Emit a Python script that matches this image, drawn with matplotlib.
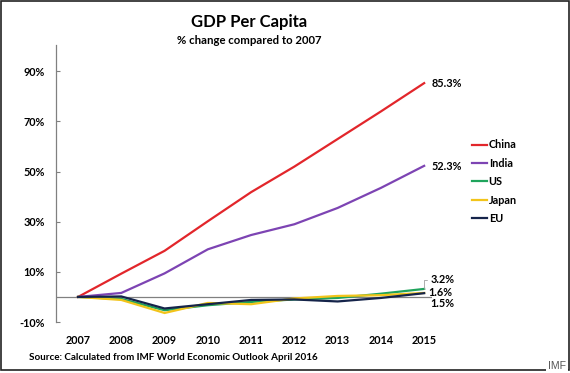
import matplotlib
matplotlib.use("Agg")
import matplotlib.pyplot as plt
from matplotlib.patches import Rectangle

plt.rcParams['font.family'] = ['Lato', 'DejaVu Sans']
plt.rcParams['font.weight'] = 'bold'

# data: % change in GDP per capita vs 2007
years = [2007, 2008, 2009, 2010, 2011, 2012, 2013, 2014, 2015]
china = [0, 9.3, 18.4, 30.2, 41.8, 52.0, 63.0, 74.0, 85.3]
india = [0, 1.6, 9.4, 19.0, 24.7, 29.0, 35.5, 43.5, 52.3]
us = [0, -0.8, -5.3, -3.3, -2.0, -1.0, -0.4, 1.3, 3.2]
japan = [0, -1.2, -6.4, -2.4, -2.9, -0.6, 0.4, 0.7, 1.6]
eu = [0, 0.2, -4.6, -2.9, -1.2, -1.0, -1.8, -0.4, 1.5]

series = [("China", china, "#e2262b"),
          ("India", india, "#7d44b3"),
          ("US", us, "#1fa45c"),
          ("Japan", japan, "#f2c41a"),
          ("EU", eu, "#15244a")]

yticks = [-10, 10, 30, 50, 70, 90]
end_labels = {"China": "85.3%", "India": "52.3%", "US": "3.2%", "Japan": "1.6%", "EU": "1.5%"}

fig = plt.figure(figsize=(5.70, 3.73), dpi=100)
ax = fig.add_axes([0.0982, 0.1367, 0.6596, 0.7426])

for name, vals, col in series:
    ax.plot(years, vals, color=col, lw=1.6, label=name, solid_joinstyle='miter')

ax.axhline(0, color="#808080", lw=0.9, zorder=0)
ax.set_xlim(2006.49, 2015.18)
ax.set_ylim(-10, 100.5)

for s in ["top", "right", "bottom"]:
    ax.spines[s].set_visible(False)
ax.spines["left"].set_color("#808080")
ax.spines["left"].set_linewidth(0.9)

ax.set_yticks(yticks)
ax.set_yticklabels([f"{t}%" for t in yticks])
ax.tick_params(axis="y", direction="in", length=3, color="#808080", pad=8, labelsize=7.8)
ax.set_xticks(years)
ax.set_xticklabels([str(y) for y in years])
ax.tick_params(axis="x", length=0, pad=9, labelsize=7.8)

# end-of-line value labels
ax.annotate(end_labels["China"], (2015, china[-1]), xytext=(7, 0), textcoords="offset pixels",
            va="center", fontsize=7.8)
ax.annotate(end_labels["India"], (2015, india[-1]), xytext=(7, -1), textcoords="offset pixels",
            va="center", fontsize=7.8)
ax.annotate(end_labels["US"], (2015, us[-1]), xytext=(6, 9), textcoords="offset pixels",
            va="center", fontsize=7.8,
            arrowprops=dict(arrowstyle="-", color="#a0a0a0", lw=0.6, shrinkA=0, shrinkB=0,
                            connectionstyle="angle,angleA=0,angleB=90,rad=0"))
ax.annotate(end_labels["Japan"], (2015, japan[-1]), xytext=(4, 0), textcoords="offset pixels",
            va="center", fontsize=7.8)
ax.annotate(end_labels["EU"], (2015, eu[-1]), xytext=(6, -10), textcoords="offset pixels",
            va="center", fontsize=7.8)

leg = ax.legend(loc="upper left", bbox_to_anchor=(467 / 570, 1 - 134 / 373),
                bbox_transform=fig.transFigure, frameon=False, fontsize=7.8,
                handlelength=1.35, handletextpad=0.15, labelspacing=0.68, borderpad=0)

fig.text(249 / 570, 1 - 22 / 373, "GDP Per Capita", ha="center", va="center", fontsize=12)
fig.text(249 / 570, 1 - 40 / 373, "% change compared to 2007", ha="center", va="center", fontsize=8.2)
fig.text(29 / 570, 1 - 357 / 373, "Source: Calculated from IMF World Economic Outlook April 2016",
         ha="left", va="center", fontsize=7.1)

# outer frame
fig.patches.append(Rectangle((1 / 570, 3 / 373), 568 / 570, 369 / 373, transform=fig.transFigure,
                             fill=False, edgecolor="#222222", lw=1.2))
fig.text(566 / 570, 1 - 366 / 373, "IMF", ha="right", va="center", fontsize=7.5,
         family="Liberation Sans", weight="normal", color="#555555",
         bbox=dict(facecolor="white", edgecolor="none", pad=1.5))

fig.savefig("out.png", dpi=100)
